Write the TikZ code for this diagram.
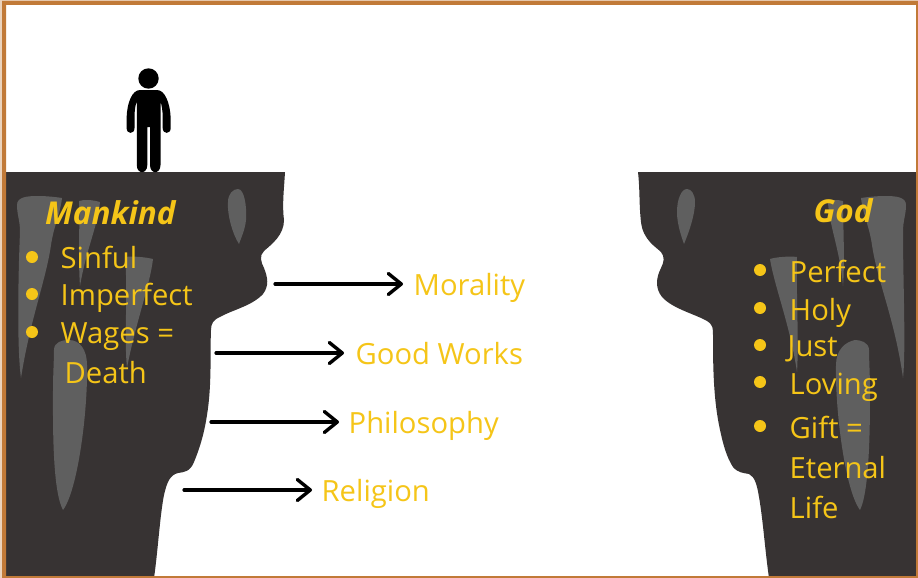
\documentclass[tikz,border=0pt]{standalone}
\usepackage{fontspec}
\setmainfont{Open Sans}
\usetikzlibrary{arrows.meta}
\definecolor{rock}{HTML}{373333}
\definecolor{drip}{HTML}{5F5F5F}
\definecolor{gold}{HTML}{F5C518}
\definecolor{frame}{HTML}{C17A38}
\definecolor{frameedge}{HTML}{EBD3BC}
\tikzset{
  rockshape/.style={fill=rock,draw=none},
  dripshape/.style={fill=drip,draw=none},
  lbl/.style={text=gold,font=\fontsize{29.2}{34}\selectfont,inner sep=0pt,anchor=base west},
  ttl/.style={text=gold,font=\fontsize{31.5}{34}\selectfont\bfseries\itshape,inner sep=0pt,anchor=base west},
  dot/.style={circle,fill=gold,draw=none,minimum size=12pt,inner sep=0pt},
  arw/.style={black,line width=3.2pt,line cap=round,-{Straight Barb[length=13pt,width=21pt,line width=3.4pt,round]}},
  fig/.style={fill=black,draw=none}
}
\begin{document}
\begin{tikzpicture}[x=1pt,y=-1pt]
\useasboundingbox (0,0) rectangle (918,578);
\fill[white] (0,0) rectangle (918,578);
% left cliff
\fill[rockshape] (6,172) -- (285,172)
  .. controls (284,190) and (282,205) .. (284,220)
  .. controls (284,235) and (272,244) .. (264,251)
  .. controls (259,256) and (261,262) .. (264,268)
  .. controls (268,278) and (269,286) .. (263,294)
  .. controls (252,306) and (232,310) .. (220,317)
  .. controls (213,320) and (211,324) .. (211,330)
  .. controls (210,350) and (212,385) .. (207,415)
  .. controls (204,435) and (199,450) .. (194,462)
  .. controls (190,472) and (184,472) .. (178,473)
  .. controls (170,475) and (167,482) .. (164,495)
  .. controls (160,515) and (158,550) .. (154,578)
  -- (6,578) -- cycle;
% right cliff
\fill[rockshape] (916,172) -- (638,172)
  .. controls (640,190) and (639,205) .. (641,222)
  .. controls (643,240) and (656,247) .. (661,252)
  .. controls (665,257) and (664,262) .. (661,268)
  .. controls (656,278) and (655,288) .. (662,297)
  .. controls (673,309) and (695,314) .. (707,321)
  .. controls (713,325) and (713,328) .. (713,335)
  .. controls (713,360) and (713,395) .. (719,425)
  .. controls (723,445) and (727,458) .. (733,467)
  .. controls (738,473) and (744,473) .. (749,474)
  .. controls (755,477) and (757,485) .. (759,497)
  .. controls (763,520) and (765,550) .. (769,578)
  -- (916,578) -- cycle;
% left drips
\fill[dripshape] (17,205) .. controls (17,197) and (27,196) .. (38,196)
  .. controls (46,196) and (56,197) .. (62,198)
  .. controls (60,215) and (54,225) .. (51,245)
  .. controls (46,280) and (30,320) .. (21,378)
  .. controls (17,350) and (18,280) .. (20,232)
  .. controls (20,220) and (17,215) .. (17,205) -- cycle;
\fill[dripshape] (79,201) .. controls (85,199) and (93,200) .. (100,202)
  .. controls (98,225) and (86,250) .. (80,286)
  .. controls (78,260) and (80,225) .. (79,201) -- cycle;
\fill[dripshape] (125,257) .. controls (132,256) and (145,257) .. (153,259)
  .. controls (150,285) and (135,325) .. (127,368)
  .. controls (124,340) and (128,290) .. (125,257) -- cycle;
\fill[dripshape] (54,350) .. controls (54,342) and (62,340) .. (69,340)
  .. controls (80,340) and (87,350) .. (87,365)
  .. controls (88,410) and (78,490) .. (63,510)
  .. controls (52,490) and (53,420) .. (53,390)
  .. controls (53,375) and (54,360) .. (54,350) -- cycle;
\fill[dripshape] (238,189) .. controls (244,189) and (247,205) .. (246,220)
  .. controls (245,230) and (241,238) .. (239,244)
  .. controls (233,235) and (227,215) .. (228,202)
  .. controls (228,194) and (233,189) .. (238,189) -- cycle;
% right drips
\fill[dripshape] (906,205) .. controls (906,197) and (896,196) .. (885,196)
  .. controls (877,196) and (868,197) .. (861,198)
  .. controls (863,215) and (869,225) .. (872,245)
  .. controls (877,280) and (895,320) .. (903,378)
  .. controls (906,350) and (903,280) .. (903,232)
  .. controls (903,220) and (906,215) .. (906,205) -- cycle;
\fill[dripshape] (843,201) .. controls (836,199) and (830,200) .. (828,202)
  .. controls (829,225) and (840,250) .. (843,286)
  .. controls (845,260) and (843,225) .. (843,201) -- cycle;
\fill[dripshape] (797,257) .. controls (790,256) and (776,257) .. (770,259)
  .. controls (774,285) and (790,325) .. (797,372)
  .. controls (799,340) and (796,290) .. (797,257) -- cycle;
\fill[dripshape] (869,350) .. controls (869,342) and (860,340) .. (855,340)
  .. controls (845,342) and (836,350) .. (836,365)
  .. controls (835,410) and (845,490) .. (860,510)
  .. controls (870,490) and (870,420) .. (870,390)
  .. controls (870,375) and (869,360) .. (869,350) -- cycle;
\fill[dripshape] (687,189) .. controls (681,189) and (677,200) .. (677,212)
  .. controls (677,225) and (682,238) .. (684,244)
  .. controls (689,232) and (695,215) .. (695,202)
  .. controls (695,194) and (691,189) .. (687,189) -- cycle;
% person
\fill[fig] (148.5,78.5) circle (10.2);
\fill[fig] (140,90) -- (157,90)
  .. controls (165,90) and (170,103) .. (170.7,118)
  -- (170.7,128) .. controls (170.7,134.5) and (162.7,134.5) .. (162.7,128)
  -- (162.7,118) .. controls (162.7,110) and (161.5,104) .. (160.5,102)
  -- (160.5,165) .. controls (160.5,174.5) and (150,174.5) .. (150,165)
  -- (150,127) -- (147.3,127) -- (147.3,165)
  .. controls (147.3,174.5) and (136.8,174.5) .. (136.8,165)
  -- (136.8,102) .. controls (135.5,104) and (134.5,110) .. (134.5,118)
  -- (134.5,128) .. controls (134.5,134.5) and (126.6,134.5) .. (126.6,128)
  -- (126.6,118) .. controls (127,103) and (132,90) .. (140,90) -- cycle;
% frame
\fill[frameedge] (0,0) rectangle (2,578);
\fill[frameedge] (0,0) rectangle (918,1);
\fill[frame,even odd rule] (2,1) rectangle (918,578) (6,5) rectangle (916,576);
% left text
\node[ttl] (mankind) at (45,224) {Mankind};
\node[lbl] (sinful) at (60.5,268) {Sinful};
\node[lbl] (imperfect) at (60.5,305) {Imperfect};
\node[lbl] (wages) at (60.5,343) {Wages =};
\node[lbl] (death) at (64.5,383) {Death};
\node[dot] (d1) at (32,257) {};
\node[dot] (d2) at (32,294) {};
\node[dot] (d3) at (32,332) {};
% right text
\node[ttl] (god) at (813.5,222) {God};
\node[lbl] (perfect) at (789.5,282) {Perfect};
\node[lbl] (holy) at (789.5,320) {Holy};
\node[lbl] (just) at (787.5,356) {Just};
\node[lbl] (loving) at (789.5,394.5) {Loving};
\node[lbl] (gift) at (789.5,438) {Gift =};
\node[lbl] (eternal) at (789.5,478) {Eternal};
\node[lbl] (life) at (789.5,518) {Life};
\node[dot] (e1) at (760,270) {};
\node[dot] (e2) at (760,308) {};
\node[dot] (e3) at (760,345) {};
\node[dot] (e4) at (760,382) {};
\node[dot] (e5) at (760,426) {};
% centre labels and arrows
\node[lbl] (morality) at (413.5,295) {Morality};
\node[lbl] (goodworks) at (355.5,364) {Good Works};
\node[lbl] (philosophy) at (348.5,433) {Philosophy};
\node[lbl] (religion) at (321.5,501) {Religion};
\coordinate (a1) at (275,284);
\coordinate (a2) at (216,353);
\coordinate (a3) at (211,422);
\coordinate (a4) at (184,490);
\coordinate (b1) at (403,284);
\coordinate (b2) at (344,353);
\coordinate (b3) at (339,422);
\coordinate (b4) at (312,490);
\draw[arw] (a1) -- (b1);
\draw[arw] (a2) -- (b2);
\draw[arw] (a3) -- (b3);
\draw[arw] (a4) -- (b4);
\end{tikzpicture}
\end{document}
